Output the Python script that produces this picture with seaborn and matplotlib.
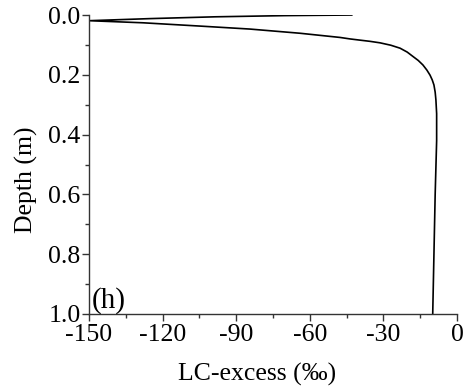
import matplotlib
matplotlib.use("Agg")
import matplotlib.pyplot as plt
import seaborn as sns
import pandas as pd
from matplotlib.ticker import MultipleLocator

# LC-excess profile with depth
depth = [0.000, 0.002, 0.006, 0.012, 0.019, 0.026, 0.037, 0.047, 0.061, 0.075,
         0.080, 0.084, 0.088, 0.093, 0.101, 0.111, 0.124, 0.139, 0.152, 0.167,
         0.184, 0.201, 0.217, 0.234, 0.258, 0.284, 0.330, 0.420, 0.600, 0.800,
         1.000]
lc_excess = [-42.8, -70.0, -98.6, -125.0, -150.0, -128.0, -104.8, -84.4, -64.0, -47.7,
             -43.6, -39.6, -35.5, -31.4, -27.0, -23.2, -20.3, -17.9, -15.8, -13.9,
             -12.3, -11.0, -10.1, -9.4, -8.9, -8.6, -8.3, -8.3, -8.9, -9.4,
             -9.9]

x_ticks = [-150, -120, -90, -60, -30, 0]
y_ticks = [0.0, 0.2, 0.4, 0.6, 0.8, 1.0]
panel_label = "(h)"

sns.set_theme(style="ticks")
plt.rcParams["font.family"] = ["Liberation Serif", "DejaVu Serif"]

df = pd.DataFrame({"depth": depth, "lc": lc_excess})

fig = plt.figure(figsize=(4.67, 3.90), dpi=100)
ax = fig.add_axes([0.1906, 0.1949, 0.788, 0.7666])

sns.lineplot(data=df, x="lc", y="depth", sort=False, estimator=None,
             color="black", linewidth=1.2, ax=ax)

ax.set_xlim(-150, 0)
ax.set_ylim(1.0, 0.0)
ax.set_xticks(x_ticks)
ax.set_xticklabels([f"{v}" for v in x_ticks])
ax.set_yticks(y_ticks)
ax.set_yticklabels([f"{v:.1f}" for v in y_ticks])
ax.xaxis.set_minor_locator(MultipleLocator(15))
ax.yaxis.set_minor_locator(MultipleLocator(0.1))

for side in ["top", "right"]:
    ax.spines[side].set_visible(False)
for side in ["left", "bottom"]:
    ax.spines[side].set_color("#333333")
    ax.spines[side].set_linewidth(1.0)

ax.tick_params(which="major", direction="out", length=5, width=1.0,
               color="#333333", labelsize=18.5, labelcolor="black")
ax.tick_params(axis="x", which="major", pad=2)
ax.tick_params(axis="y", which="major", pad=1)
ax.tick_params(which="minor", direction="out", length=3, width=1.0,
               color="#333333")

ax.set_xlabel("LC-excess (‰)", fontsize=18.5, color="black")
ax.set_ylabel("Depth (m)", fontsize=18.5, color="black")
ax.xaxis.set_label_coords(0.457, -0.165)
ax.yaxis.set_label_coords(-0.139, 0.448)

ax.text(0.008, 0.0, panel_label, transform=ax.transAxes, fontsize=21,
        ha="left", va="bottom", color="black")

fig.savefig("out.png", dpi=100)
